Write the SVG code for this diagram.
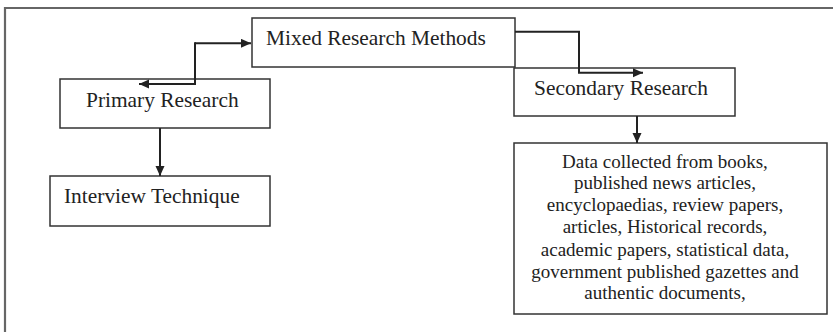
<svg xmlns="http://www.w3.org/2000/svg" width="833" height="332" viewBox="0 0 833 332">
<defs>
<marker id="ah" markerUnits="userSpaceOnUse" markerWidth="11" markerHeight="10" refX="10" refY="4.5" orient="auto">
<path d="M0,0 L10,4.5 L0,9 z" fill="#222"/>
</marker>
<style>
.box{fill:#fff;stroke:#333;stroke-width:1.5}
.lbl{font-family:"Liberation Serif","Times New Roman",serif;font-size:21.4px;fill:#222}
.txt{font-family:"Liberation Serif","Times New Roman",serif;font-size:19px;fill:#222;text-anchor:middle}
.con{fill:none;stroke:#222;stroke-width:2}
.frame{fill:none;stroke:#666;stroke-width:2.2}
</style>
</defs>
<rect width="833" height="332" fill="#fff"/>
<path class="frame" d="M5,332 L5,8 L833,8"/>
<g id="mixed">
<rect class="box" x="252" y="18" width="263" height="49"/>
<text class="lbl" x="266" y="45">Mixed Research Methods</text>
</g>
<g id="primary">
<rect class="box" x="60" y="79" width="210" height="49"/>
<text class="lbl" x="86" y="106.5">Primary Research</text>
</g>
<g id="secondary">
<rect class="box" x="514" y="68" width="221" height="48"/>
<text class="lbl" x="534" y="95">Secondary Research</text>
</g>
<g id="interview">
<rect class="box" x="50" y="176" width="220" height="50"/>
<text class="lbl" x="64" y="203.3">Interview Technique</text>
</g>
<g id="data">
<rect class="box" x="514" y="143" width="313" height="171"/>
<text class="txt" x="665" y="167.5">Data collected from books,</text>
<text class="txt" x="665" y="189.4">published news articles,</text>
<text class="txt" x="665" y="211.3">encyclopaedias, review papers,</text>
<text class="txt" x="665" y="233.2">articles, Historical records,</text>
<text class="txt" x="665" y="255.8">academic papers, statistical data,</text>
<text class="txt" x="665" y="277.5">government published gazettes and</text>
<text class="txt" x="665" y="299">authentic documents,</text>
</g>
<g id="connectors">
<path class="con" d="M195,43.3 L251,43.3" marker-end="url(#ah)"/>
<path class="con" d="M195,42.3 L195,84 L139,84" marker-end="url(#ah)"/>
<path class="con" d="M515,31.7 L579,31.7 L579,72.7 L643,72.7" marker-end="url(#ah)"/>
<path class="con" d="M160,128 L160,176" marker-end="url(#ah)"/>
<path class="con" d="M637,116 L637,143" marker-end="url(#ah)"/>
</g>
</svg>
